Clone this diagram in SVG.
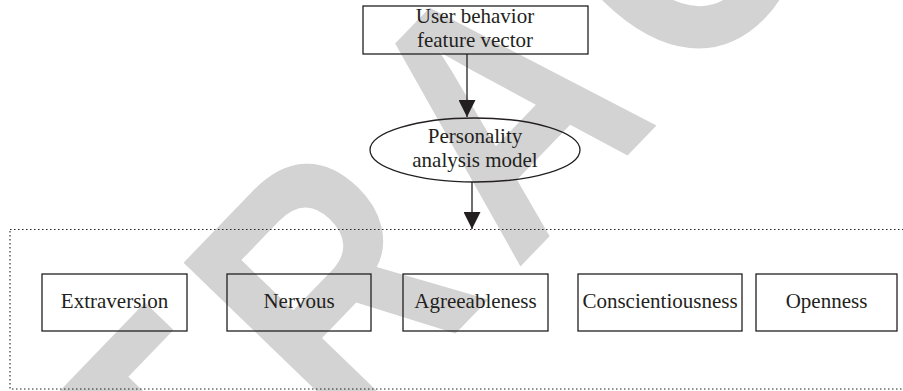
<svg xmlns="http://www.w3.org/2000/svg" width="903" height="391" viewBox="0 0 903 391">
<style>
.wm{font-family:"Liberation Sans",Arial,sans-serif;font-weight:bold;fill:#d3d3d3}
.t{font-family:"Liberation Serif","Times New Roman",serif;font-size:21px;fill:#231f20;text-anchor:middle}
.b{fill:none;stroke:#231f20;stroke-width:1.3}
.c{stroke:#231f20;stroke-width:1.3;fill:none}
.dot{fill:none;stroke:#231f20;stroke-width:1.1;stroke-dasharray:1.5 2.5}
</style>
<defs>
<marker id="ah" markerUnits="userSpaceOnUse" markerWidth="17" markerHeight="17" refX="17" refY="8.5" orient="auto">
<path d="M0,0 L17,8.5 L0,17 z" fill="#231f20"/>
</marker>
</defs>
<rect width="903" height="391" fill="#ffffff"/>
<text class="wm" font-size="356" letter-spacing="40" text-anchor="middle" transform="translate(600,184) rotate(-46) scale(0.82,1)">RETRACTED</text>
<g id="group">
<rect class="dot" x="10" y="229.5" width="900" height="159.5"/>
</g>
<g id="connectors">
<line class="c" x1="467" y1="54" x2="467" y2="117" marker-end="url(#ah)"/>
<line class="c" x1="472" y1="182" x2="472" y2="229" marker-end="url(#ah)"/>
</g>
<g id="input">
<rect class="b" x="363" y="6" width="225" height="48"/>
<text class="t" x="475" y="23">User behavior</text>
<text class="t" x="475" y="47">feature vector</text>
</g>
<g id="model">
<ellipse class="b" cx="475" cy="150" rx="105" ry="32"/>
<text class="t" x="475" y="143">Personality</text>
<text class="t" x="475" y="167">analysis model</text>
</g>
<g id="extraversion">
<rect class="b" x="42" y="274" width="145" height="57"/>
<text class="t" x="114.5" y="308">Extraversion</text>
</g>
<g id="nervous">
<rect class="b" x="227" y="274" width="144" height="57"/>
<text class="t" x="299" y="308">Nervous</text>
</g>
<g id="agreeableness">
<rect class="b" x="403" y="274" width="145" height="57"/>
<text class="t" x="475.5" y="308">Agreeableness</text>
</g>
<g id="conscientiousness">
<rect class="b" x="578" y="274" width="164" height="57"/>
<text class="t" x="660" y="308">Conscientiousness</text>
</g>
<g id="openness">
<rect class="b" x="756" y="274" width="141" height="57"/>
<text class="t" x="826.5" y="308">Openness</text>
</g>
</svg>
